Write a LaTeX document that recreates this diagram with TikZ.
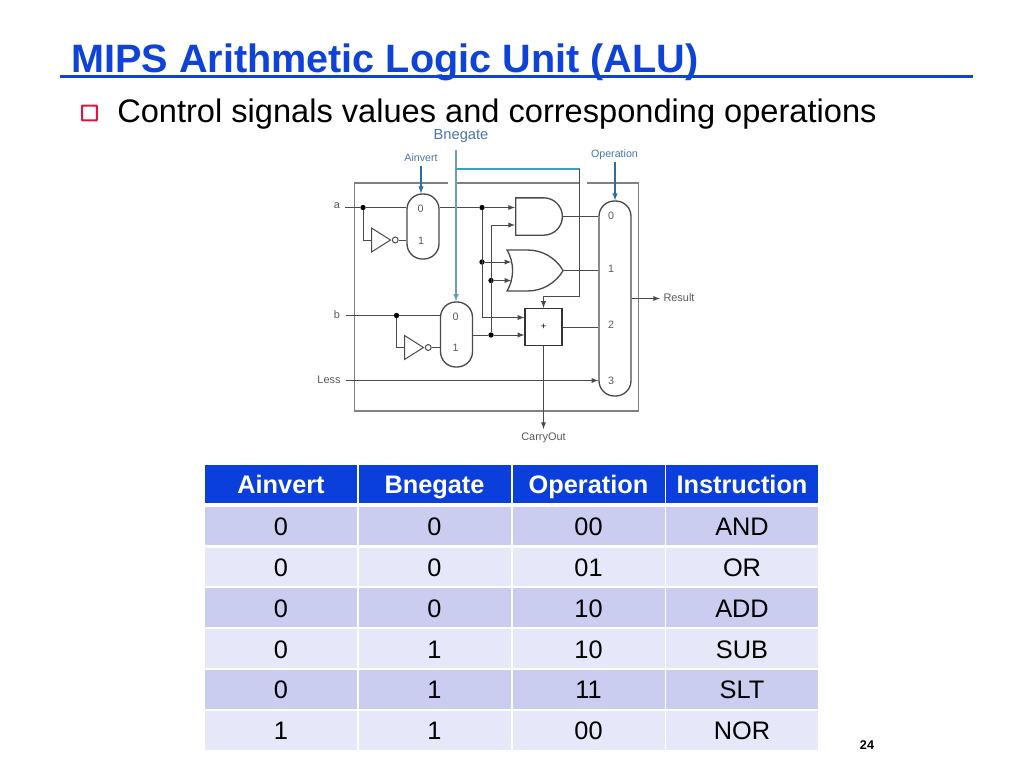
\documentclass[tikz,border=0pt]{standalone}
\usepackage{fontspec}
\setmainfont{Liberation Sans}
\usetikzlibrary{positioning,shapes.geometric,shapes.gates.logic.US}

\definecolor{titleblue}{HTML}{0F43D8}
\definecolor{headblue}{HTML}{0A3FDB}
\definecolor{rowa}{HTML}{CBCDF0}
\definecolor{rowb}{HTML}{E6E7F8}
\definecolor{bulletred}{HTML}{E0143C}
\definecolor{wiregray}{HTML}{4A4A4A}
\definecolor{framegray}{HTML}{808080}
\definecolor{textgray}{HTML}{585858}
\definecolor{ctrlblue}{HTML}{2A6EA5}
\definecolor{ctrltext}{HTML}{4A74A8}
\definecolor{cyanline}{HTML}{35A0CC}
\definecolor{paleline}{HTML}{6F9DB5}

\tikzset{
  wire/.style={draw=wiregray,line width=.75pt},
  frameline/.style={draw=framegray,line width=1pt},
  ctrl/.style={draw=ctrlblue,line width=.8pt},
  muxbox/.style={draw=wiregray,line width=1pt,rounded corners=11.5pt,minimum width=24pt,inner sep=0pt},
  dot/.style={circle,fill=black,inner sep=0pt,minimum size=4pt},
  pin/.style={font=\fontsize{8}{9}\selectfont,text=textgray,inner sep=0pt},
  sig/.style={font=\fontsize{8.2}{9}\selectfont,text=textgray,inner sep=0pt},
  ctrllabel/.style={font=\fontsize{8}{9}\selectfont,text=ctrltext,inner sep=0pt},
  cell/.style={minimum width=114pt,minimum height=29pt,inner sep=0pt,text height=14pt,text depth=0pt,font=\fontsize{19}{22}\selectfont},
  headcell/.style={cell,fill=headblue,text=white,font=\fontsize{19}{22}\selectfont\bfseries},
  notbox/.style={isosceles triangle,isosceles triangle stretches,anchor=lower side,draw=wiregray,line width=.75pt,minimum width=18pt,minimum height=14.25pt,inner sep=0pt},
  bubble/.style={circle,draw=wiregray,line width=.75pt,minimum size=4.4pt,inner sep=0pt,anchor=west},
  andbox/.style={and gate US,draw=wiregray,line width=1pt,logic gate inputs=nn,minimum width=35pt,minimum height=23.5pt,inner sep=0pt},
  orbox/.style={or gate US,draw=wiregray,line width=1pt,logic gate inputs=nn,minimum width=42pt,minimum height=22.5pt,inner sep=0pt}
}

\begin{document}
\begin{tikzpicture}[x=.75pt,y=-.75pt,>=latex]
   \useasboundingbox (0,0) rectangle (1024,768);

   \node[anchor=base west,inner sep=0pt,text=titleblue,font=\fontsize{29.7}{32}\selectfont\bfseries] (title) at (71,72) {MIPS Arithmetic Logic Unit (ALU)};
   \coordinate (rule_l) at (60,76.5);
   \coordinate (rule_r) at (973,76.5);
   \draw[titleblue,line width=2.6pt] (rule_l) -- (rule_r);
   \node[draw=bulletred,line width=1.6pt,minimum size=11pt,inner sep=0pt,rounded corners=.5pt] (bullet) at (89.5,113) {};
   \node[anchor=base west,inner sep=0pt,font=\fontsize{24.45}{27}\selectfont] (intro) at (117,122.5) {Control signals values and corresponding operations};

   % frame of the unit
   \coordinate (box_nw) at (354.5,183);
   \coordinate (box_ne) at (638.5,183);
   \coordinate (box_sw) at (354.5,411);
   \coordinate (box_se) at (638.5,411);
   \coordinate (gap_1) at (448,183);
   \coordinate (gap_2) at (457,183);
   \coordinate (gap_3) at (579,183);
   \coordinate (gap_4) at (587,183);
   \draw[frameline] (gap_1) -- (box_nw) -- (box_sw) -- (box_se) -- (box_ne) -- (gap_4);
   \draw[frameline] (gap_2) -- (gap_3);

   \node[muxbox,minimum height=48.75pt] (mux_a) at (423,226.5) {};
   \node[muxbox,minimum height=48.75pt] (mux_b) at (456.5,334.5) {};
   \node[muxbox,minimum height=146.25pt] (mux_r) at (615,298.5) {};
   \node[draw=black!80,line width=1.1pt,minimum size=27.5pt,inner sep=0pt] (adder) at (543.5,327) {};
   \node[font=\fontsize{7}{8}\selectfont,inner sep=0pt] (plus) at (adder.center) {+};

   \node[notbox] (not_a) at (371,240) {};
   \node[bubble] (bub_a) at (not_a.apex) {};
   \node[notbox] (not_b) at (404,347.5) {};
   \node[bubble] (bub_b) at (not_b.apex) {};
   \node[andbox] (and_g) at (537.5,216.5) {};
   \node[orbox] (or_g) at (531,270.5) {};

   \node[pin] (ma_0) at (420.5,208.5) {0};
   \node[pin] (ma_1) at (421,240.5) {1};
   \node[pin] (mb_0) at (455.5,317) {0};
   \node[pin] (mb_1) at (455.5,348) {1};
   \node[pin] (mr_0) at (611,216) {0};
   \node[pin] (mr_1) at (611,269) {1};
   \node[pin] (mr_2) at (611,325) {2};
   \node[pin] (mr_3) at (611,380.5) {3};

   \node[sig] (lbl_a) at (337,205.5) {a};
   \node[sig] (lbl_b) at (337,315) {b};
   \node[sig] (lbl_less) at (329,380) {Less};
   \node[sig] (lbl_result) at (679,298) {Result};
   \node[sig] (lbl_carry) at (543.5,438) {CarryOut};
   \node[ctrllabel] (lbl_ainv) at (421,158) {Ainvert};
   \node[ctrllabel,font=\fontsize{11}{12}\selectfont] (lbl_bneg) at (461,136) {Bnegate};
   \node[ctrllabel] (lbl_op) at (614.5,154.5) {Operation};

   \coordinate (in_a) at (345,207.5);
   \coordinate (in_b) at (346,315.5);
   \coordinate (in_less) at (346,380.5);
   \coordinate (out_r) at (660,298.5);
   \coordinate (out_c) at (543.5,429);

   \node[dot] (dot_a) at (363,207.5) {};
   \node[dot] (dot_b) at (396.5,315.5) {};
   \node[dot] (dot_p) at (482,207.5) {};
   \node[dot] (dot_q) at (482,262) {};
   \node[dot] (dot_r) at (491,280.5) {};
   \node[dot] (dot_s) at (491,335) {};

   \draw[wire] (in_a) -- (dot_a) -- (dot_a -| mux_a.west);
   \draw[wire] (dot_a) |- (not_a.lower side);
   \draw[wire] (bub_a.east) -- (bub_a.east -| mux_a.west);
   \draw[wire] (in_b) -- (dot_b) -- (dot_b -| mux_b.west);
   \draw[wire] (dot_b) |- (not_b.lower side);
   \draw[wire] (bub_b.east) -- (bub_b.east -| mux_b.west);
   \draw[wire,->] (in_less) -- (in_less -| mux_r.west);

   \draw[wire] (dot_p -| mux_a.east) -- (dot_p);
   \draw[wire,->] (dot_p) -- (dot_p -| and_g.west);
   \draw[wire,->] (dot_p) |- (adder.west |- 0,317.5);
   \draw[wire,->] (dot_q) -- (dot_q -| or_g.input 1);
   \draw[wire] (dot_s -| mux_b.east) -- (dot_s);
   \draw[wire,->] (dot_s) -- (dot_s -| adder.west);
   \draw[wire,->] (dot_s) |- (and_g.west |- 0,225);
   \draw[wire,->] (dot_r) -- (dot_r -| or_g.input 1);

   \draw[wire] (and_g.east) -- (and_g.east -| mux_r.west);
   \draw[wire] (or_g.east) -- (or_g.east -| mux_r.west);
   \draw[wire] (adder.east) -- (adder.east -| mux_r.west);
   \draw[wire,->] (mux_r.east |- out_r) -- (out_r);
   \draw[wire,->] (adder.south) -- (out_c);

   % control lines
   \coordinate (bneg_top) at (456,150);
   \coordinate (bneg_tee) at (456,169);
   \coordinate (bneg_cnr) at (579.5,169);
   \coordinate (add_cnr) at (579.5,296);
   \draw[paleline,line width=.9pt,->] (bneg_top) -- (bneg_top |- mux_b.north);
   \draw[cyanline,line width=.8pt] (bneg_tee) -- (bneg_cnr);
   \draw[wire] (bneg_cnr) -- (add_cnr);
   \draw[wire,->] (add_cnr) -| (adder.north);
   \coordinate (ainv_top) at (421,166);
   \coordinate (op_top) at (615,162);
   \draw[ctrl,->] (ainv_top) -- (ainv_top |- mux_a.north);
   \draw[ctrl,->] (op_top) -- (mux_r.north);

   % table
   \foreach \xc/\tc [count=\c] in {281/Ainvert,434.5/Bnegate,588.5/Operation,742/Instruction}
      \node[headcell] (head_\c) at (\xc,484) {\tc};
   \foreach \ca/\cb/\cc/\cd [count=\r] in {0/0/00/AND,0/0/01/OR,0/0/10/ADD,0/1/10/SUB,0/1/11/SLT,1/1/00/NOR} {
      \ifodd\r \def\rowcol{rowa}\else \def\rowcol{rowb}\fi
      \pgfmathsetmacro{\yr}{526+(\r-1)*40.9}
      \node[cell,fill=\rowcol] (cell_\r_1) at (281,\yr) {\ca};
      \node[cell,fill=\rowcol] (cell_\r_2) at (434.5,\yr) {\cb};
      \node[cell,fill=\rowcol] (cell_\r_3) at (588.5,\yr) {\cc};
      \node[cell,fill=\rowcol] (cell_\r_4) at (742,\yr) {\cd};
   }

   \node[inner sep=0pt,font=\fontsize{9.5}{11}\selectfont\bfseries] (page) at (867,745.5) {24};
\end{tikzpicture}
\end{document}
